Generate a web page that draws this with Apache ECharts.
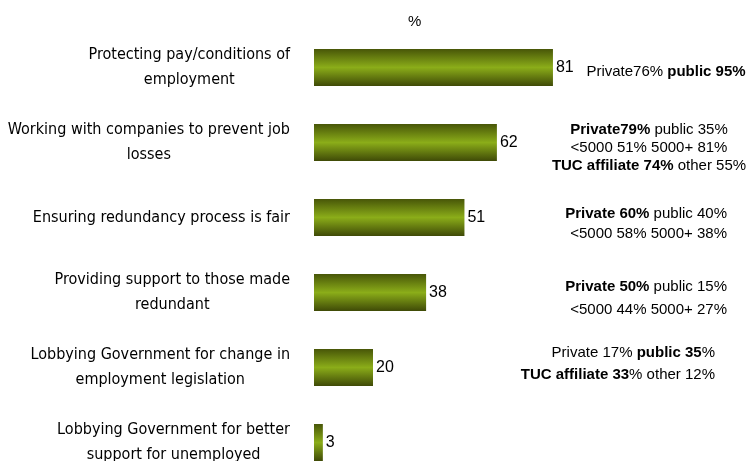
<!DOCTYPE html>
<html>
<head>
<meta charset="utf-8">
<script src="https://cdn.jsdelivr.net/npm/echarts@6/dist/echarts.min.js"></script>
<style>
  html, body { margin: 0; padding: 0; background: #fff; }
  #chart { width: 747px; height: 461px; }
</style>
</head>
<body>
<div id="chart"></div>
<script>
// 横向柱状图 - union priorities
var categories = [
  "Protecting pay/conditions of\nemployment",
  "Working with companies to prevent job\nlosses",
  "Ensuring redundancy process is fair",
  "Providing support to those made\nredundant",
  "Lobbying Government for change in\nemployment legislation",
  "Lobbying Government for better\nsupport for unemployed"
];
var values = [81, 62, 51, 38, 20, 3];

// side notes (bold parts wrapped in {b|...})
var notes = [
  "Private76% {b|public 95%}",
  "{b|Private79%} public 35%\n<5000 51% 5000+ 81%\n{b|TUC affiliate 74%} other 55%",
  "{b|Private 60%} public 40%\n<5000 58% 5000+ 38%",
  "{b|Private 50%} public 15%\n<5000 44% 5000+ 27%",
  "Private 17% {b|public 35}%\n{b|TUC affiliate 33}% other 12%"
];

var myChart = echarts.init(document.getElementById("chart"));

var noteFamily = "Liberation Sans, Arial, sans-serif";
var noteSize = 15;
var noteRich = { b: { fontWeight: "bold", fontFamily: noteFamily, fontSize: noteSize } };

function noteText(txt, x, y, align, lh) {
  return {
    type: "text",
    x: x,
    y: y,
    style: {
      text: txt,
      rich: noteRich,
      align: align,
      verticalAlign: "middle",
      lineHeight: lh,
      fontFamily: noteFamily,
      fontSize: noteSize,
      fill: "#000"
    }
  };
}

myChart.setOption({
  animation: false,
  title: {
    text: "%",
    left: 403,
    top: 9,
    textStyle: { fontFamily: "Liberation Sans, Arial", fontSize: 15, fontWeight: "normal", color: "#000" }
  },
  grid: {
    left: 314,
    top: 30,
    width: 295,
    height: 450,
    outerBoundsMode: "none"
  },
  xAxis: {
    type: "value",
    min: 0,
    max: 100,
    show: false
  },
  yAxis: {
    type: "category",
    inverse: true,
    data: categories,
    axisLine: { show: false },
    axisTick: { show: false },
    axisLabel: {
      margin: 24,
      align: "right",
      formatter: function (v) {
        return v.split("\n").map(function (l) { return "{c|" + l + "}"; }).join("\n");
      },
      rich: {
        c: {
          align: "center",
          fontFamily: "DejaVu Sans Condensed, Liberation Sans Narrow, sans-serif",
          fontSize: 16,
          lineHeight: 25,
          color: "#000"
        }
      }
    }
  },
  series: [
    {
      type: "bar",
      data: values,
      barWidth: 37,
      itemStyle: {
        color: new echarts.graphic.LinearGradient(0, 0, 0, 1, [
          { offset: 0, color: "#485608" },
          { offset: 0.5, color: "#8bad19" },
          { offset: 1, color: "#3f4a07" }
        ])
      },
      label: {
        show: true,
        position: "right",
        distance: 3,
        formatter: "{c}",
        fontFamily: "Liberation Sans, Arial",
        fontSize: 16,
        color: "#000"
      }
    }
  ],
  graphic: [
    noteText(notes[0], 666, 72, "center", 18),
    noteText(notes[1], 649, 148, "center", 18),
    noteText(notes[2], 727, 224, "right", 20),
    noteText(notes[3], 727, 298, "right", 23),
    noteText(notes[4], 715, 364, "right", 22)
  ]
});
</script>
</body>
</html>
